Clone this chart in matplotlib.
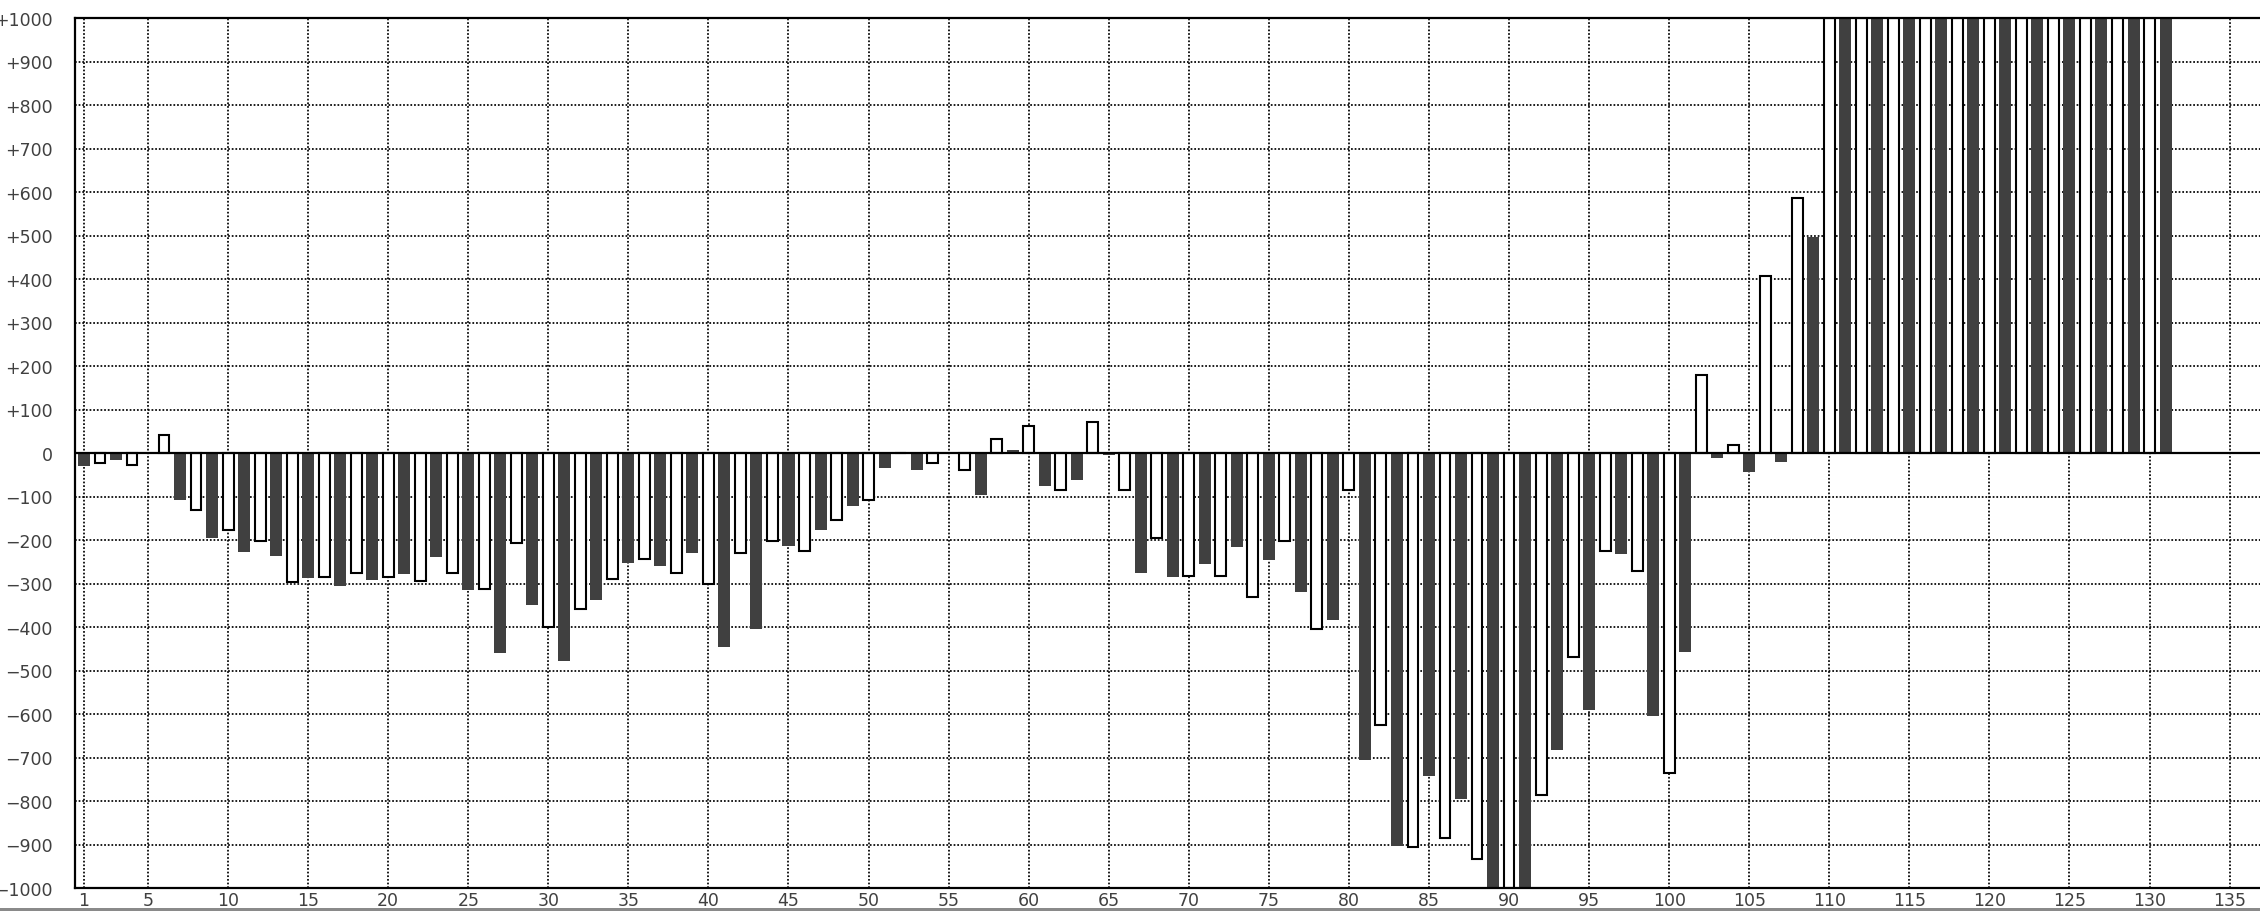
import numpy as np
import matplotlib
matplotlib.use("Agg")
import matplotlib.pyplot as plt
from matplotlib.patches import Rectangle

# values, odd positions (dark) and even positions (white)
odd_vals = [-30, -15, 0, -108, -195, -227, -236, -287, -305, -291,
            -278, -240, -314, -460, -350, -479, -337, -254, -259, -231,
            -447, -405, -213, -178, -122, -35, -40, -2, -96, 6,
            -77, -63, -5, -275, -284, -256, -215, -246, -320, -384,
            -706, -903, -743, -795, -1000, -1000, -683, -591, -232, -605,
            -457, -11, -44, -21, 497,
            1000, 1000, 1000, 1000, 1000, 1000, 1000, 1000, 1000, 1000, 1000]
even_vals = [-24, -28, 41, -130, -176, -202, -296, -285, -276, -285,
             -295, -276, -312, -207, -399, -358, -289, -244, -276, -302,
             -230, -202, -226, -153, -108, 0, -24, -38, 33, 61,
             -84, 71, -84, -195, -282, -282, -332, -203, -405, -84,
             -626, -906, -884, -934, -1000, -787, -470, -226, -272, -736,
             180, 18, 406, 586,
             1000, 1000, 1000, 1000, 1000, 1000, 1000, 1000, 1000, 1000, 1000]
x_ticks = [1] + list(range(5, 136, 5))
y_ticks = list(range(-1000, 1001, 100))

odd_x = np.arange(1, 2 * len(odd_vals), 2)
even_x = np.arange(2, 2 * len(even_vals) + 1, 2)

fig = plt.figure(figsize=(22.6, 9.12), dpi=100)
ax = fig.add_axes([75 / 2260, 23 / 912, 1 - 75 / 2260, 870 / 912])

ax.bar(odd_x, odd_vals, width=0.75, color='#404040', linewidth=0, zorder=2)
ax.bar(even_x, even_vals, width=0.68, color='white', edgecolor='black',
       linewidth=1.5, zorder=2)
ax.axhline(0, color='black', linewidth=1.6, zorder=3)

ax.set_xlim(0.44, 136.9)
ax.set_ylim(-1000, 1000)
ax.set_xticks(x_ticks)
ax.set_yticks(y_ticks)
ylabels = []
for v in y_ticks:
    if v > 0:
        ylabels.append('+%d' % v)
    elif v < 0:
        ylabels.append('\u2212%d' % -v)
    else:
        ylabels.append('0')
ax.set_yticklabels(ylabels)

ax.set_axisbelow(True)
ax.grid(True, color='black', linestyle=(0, (1, 1.1)), linewidth=1.25)
ax.tick_params(axis='both', length=0, labelsize=12.5, labelcolor='#404040')
ax.tick_params(axis='y', pad=16)
ax.tick_params(axis='x', pad=2)

for s in ['top', 'left', 'bottom']:
    ax.spines[s].set_linewidth(1.6)
    ax.spines[s].set_color('black')
ax.spines['right'].set_visible(False)

# grey strip along the bottom edge
fig.add_artist(Rectangle((0, 0), 1, 3 / 912, transform=fig.transFigure,
                         color='#8a8a8a', linewidth=0))

fig.savefig('out.png', dpi=100)
